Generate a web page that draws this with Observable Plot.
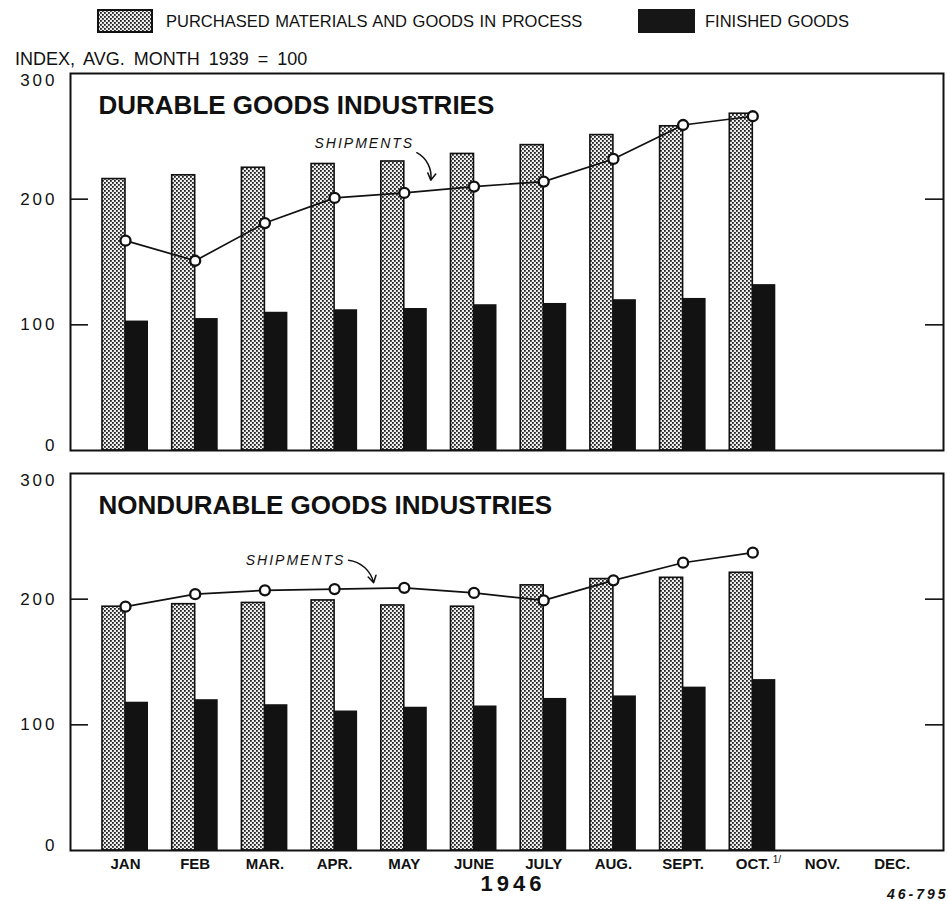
<!DOCTYPE html>
<html>
<head>
<meta charset="utf-8">
<script src="https://cdn.jsdelivr.net/npm/d3@7"></script>
<script src="https://cdn.jsdelivr.net/npm/@observablehq/plot@0.6"></script>
<style>
  body { margin: 0; background: #fff; }
  #wrap { position: relative; width: 948px; height: 901px; font-family: "Liberation Sans", Arial, sans-serif; color: #111; }
  #wrap > svg, #chart { position: absolute; left: 0; }
  g[aria-label="y-axis tick label"] text { letter-spacing: 3px; }
</style>
</head>
<body>
<div id="wrap">
  <svg id="header" width="948" height="70" style="top:0">
    <defs>
      <pattern id="stipLeg" patternUnits="userSpaceOnUse" width="4" height="4">
        <rect width="4" height="4" fill="#eeeeee"/>
        <rect x="0" y="0" width="1.8" height="1.8" fill="#222"/>
        <rect x="2" y="2" width="1.8" height="1.8" fill="#222"/>
      </pattern>
    </defs>
    <rect x="98" y="10" width="54" height="22" fill="url(#stipLeg)" stroke="#111" stroke-width="2"/>
    <text x="166" y="27" font-size="16.5" word-spacing="1" fill="#111">PURCHASED MATERIALS AND GOODS IN PROCESS</text>
    <rect x="638" y="9" width="57" height="24" fill="#161616"/>
    <text x="705" y="27" font-size="16.5" word-spacing="1" fill="#111">FINISHED GOODS</text>
    <text x="15" y="65" font-size="18" word-spacing="4" fill="#111">INDEX, AVG. MONTH 1939 = 100</text>
  </svg>
  <div id="chart" style="top:70px"></div>
</div>
<script>
// ---- data ----
const months = ["JAN", "FEB", "MAR.", "APR.", "MAY", "JUNE", "JULY", "AUG.", "SEPT.", "OCT.", "NOV.", "DEC."];
const panels = ["DURABLE GOODS INDUSTRIES", "NONDURABLE GOODS INDUSTRIES"];
const yTicks = [100, 200];

const durablePurchased   = [216, 219, 225, 228, 230, 236, 243, 251, 258, 268];
const durableFinished    = [103, 105, 110, 112, 113, 116, 117, 120, 121, 132];
const durableShipments   = [167, 151, 181, 201, 205, 210, 214, 232, 259, 266];

const nondurablePurchased = [194, 196, 197, 199, 195, 194, 211, 216, 217, 221];
const nondurableFinished  = [118, 120, 116, 111, 114, 115, 121, 123, 130, 136];
const nondurableShipments = [194, 204, 207, 208, 209, 205, 199, 215, 229, 237];

// annotation arrows (month-index / index units)
const shipArrows = [
  {panel: panels[0], x1: 4.18, y1: 237, x2: 4.38, y2: 215},
  {panel: panels[1], x1: 3.20, y1: 231, x2: 3.56, y2: 213}
];

const rows = (panel, purchased, finished, shipments) =>
  purchased.map((v, i) => ({panel, i, month: months[i], purchased: v, finished: finished[i], shipments: shipments[i]}));

const data = [
  ...rows(panels[0], durablePurchased, durableFinished, durableShipments),
  ...rows(panels[1], nondurablePurchased, nondurableFinished, nondurableShipments)
];

const INK = "#111";
const frameW = 948 - 70 - 5;

const chart = Plot.plot({
  width: 948,
  height: 831,
  marginTop: 3,
  marginBottom: 51,
  marginLeft: 70,
  marginRight: 5,
  x: {domain: [-0.789, 11.736], axis: null},
  y: {domain: [0, 300], axis: null},
  fy: {domain: panels, paddingInner: 0.0575, paddingOuter: 0, axis: null},
  style: {fontFamily: "'Liberation Sans', Arial, sans-serif", fontSize: "16px", color: INK, background: "white", overflow: "visible"},
  marks: [
    Plot.rect(data, {x1: d => d.i - 0.33, x2: "i", y1: 0, y2: "purchased", fy: "panel", fill: "url(#stip)", stroke: INK, strokeWidth: 1.6}),
    Plot.rect(data, {x1: "i", x2: d => d.i + 0.33, y1: 0, y2: "finished", fy: "panel", fill: "#121212"}),
    Plot.frame({stroke: INK, strokeWidth: 2}),
    Plot.ruleY(yTicks, {insetRight: frameW - 18, stroke: INK, strokeWidth: 1.6}),
    Plot.ruleY(yTicks, {insetLeft: frameW - 18, stroke: INK, strokeWidth: 1.6}),
    Plot.axisY(yTicks, {tickSize: 0, tickPadding: 13, fontSize: 17}),
    Plot.axisY([300], {tickSize: 0, tickPadding: 13, fontSize: 17, dy: 7}),
    Plot.axisY([0], {tickSize: 0, tickPadding: 13, fontSize: 17, dy: -4.5}),
    Plot.axisX(d3.range(months.length), {tickSize: 0, tickPadding: 8, tickFormat: i => months[i], fontSize: 15, fontWeight: "bold"}),
    Plot.text([panels[1]], {fy: d => d, x: () => 9, frameAnchor: "bottom", dx: 24, dy: 12, text: () => "1/", fontSize: 10}),
    Plot.text([panels[1]], {fy: d => d, frameAnchor: "bottom", dx: 6, dy: 25, lineAnchor: "top", text: () => "1946", fontSize: 22, fontWeight: "bold"}),
    Plot.text([panels[1]], {fy: d => d, frameAnchor: "bottom-right", dx: 5, dy: 39, lineAnchor: "top", textAnchor: "end", text: () => "46-795", fontSize: 14, fontStyle: "italic", fontWeight: "bold"}),
    Plot.line(data, {x: "i", y: "shipments", fy: "panel", stroke: INK, strokeWidth: 1.7}),
    Plot.dot(data, {x: "i", y: "shipments", fy: "panel", r: 5, fill: "white", stroke: INK, strokeWidth: 2.3}),
    Plot.text(panels, {fy: d => d, text: d => d, frameAnchor: "top-left", dx: 28, dy: 22, lineAnchor: "top", textAnchor: "start", fontSize: 26, fontWeight: "bold"}),
    Plot.text(data.filter(d => d.panel === panels[0] && d.i === 4), {x: "i", y: "shipments", fy: "panel", text: () => "SHIPMENTS", dx: -40, dy: -49, fontSize: 14, fontStyle: "italic"}),
    Plot.text(data.filter(d => d.panel === panels[1] && d.i === 3), {x: "i", y: "shipments", fy: "panel", text: () => "SHIPMENTS", dx: -39, dy: -29, fontSize: 14, fontStyle: "italic"}),
    Plot.arrow(shipArrows, {x1: "x1", y1: "y1", x2: "x2", y2: "y2", fy: "panel", bend: 35, stroke: INK, strokeWidth: 1.5, headLength: 8})
  ]
});

// letter spacing for a few spaced-out labels
const spacing = {"SHIPMENTS": "2px", "1946": "4px", "46-795": "3px"};
chart.querySelectorAll("text").forEach(t => {
  const s = spacing[t.textContent];
  if (s) t.style.letterSpacing = s;
});

// stipple pattern for the "purchased materials" bars
const ns = "http://www.w3.org/2000/svg";
const defs = document.createElementNS(ns, "defs");
const pat = document.createElementNS(ns, "pattern");
pat.setAttribute("id", "stip");
pat.setAttribute("patternUnits", "userSpaceOnUse");
pat.setAttribute("width", "4");
pat.setAttribute("height", "4");
[["0", "0", "4", "4", "#eeeeee"], ["0", "0", "1.8", "1.8", "#222"], ["2", "2", "1.8", "1.8", "#222"]].forEach(([x, y, w, h, f]) => {
  const r = document.createElementNS(ns, "rect");
  r.setAttribute("x", x); r.setAttribute("y", y);
  r.setAttribute("width", w); r.setAttribute("height", h);
  r.setAttribute("fill", f);
  pat.appendChild(r);
});
defs.appendChild(pat);
chart.insertBefore(defs, chart.firstChild);

document.getElementById("chart").appendChild(chart);
</script>
</body>
</html>
